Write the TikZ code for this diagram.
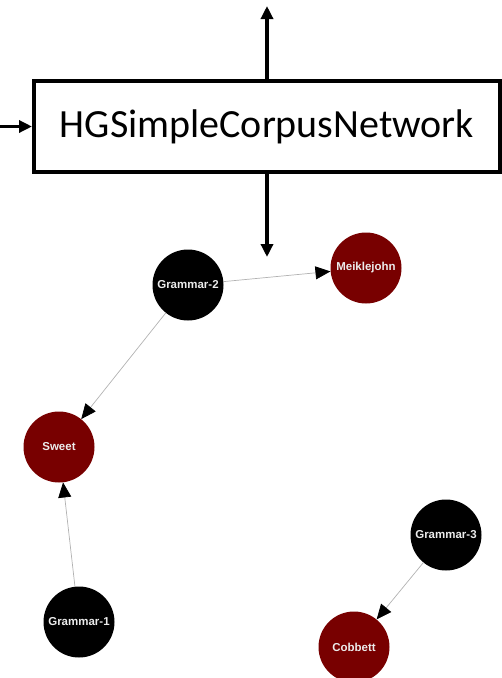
\documentclass[tikz,border=0pt]{standalone}
\usepackage{fontspec}
\setmainfont{Liberation Sans}
\newfontfamily\boxfont{Carlito}
\usetikzlibrary{arrows.meta}
\definecolor{darkred}{RGB}{120,0,0}
\definecolor{labelgray}{RGB}{235,235,235}
\begin{document}
\begin{tikzpicture}[x=1pt,y=-1pt,
  thickarrow/.style={line width=3.5pt,-{Triangle[length=13pt,width=12pt]}},
  graphnode/.style={circle,minimum size=71pt,inner sep=0pt,text=labelgray,font=\bfseries\fontsize{11.5}{12}\selectfont},
  grammarnode/.style={graphnode,fill=black},
  authornode/.style={graphnode,fill=darkred},
  edge/.style={draw=gray!60,line width=0.7pt,-{Triangle[length=15pt,width=13pt,fill=black,color=black]}}]
\useasboundingbox (0,0) rectangle (502,678);
% main box
\node[draw,line width=4pt,minimum width=466pt,minimum height=91pt,inner sep=0pt,
  font=\boxfont\fontsize{40}{42}\selectfont] (box) at (267,126.5) {HGSimpleCorpusNetwork};
\coordinate (topend) at (267,6);
\coordinate (botend) at (267,257);
\coordinate (leftstart) at (0,126.5);
\draw[thickarrow] (box.north -| topend) -- (topend);
\draw[thickarrow] (box.south -| botend) -- (botend);
\draw[thickarrow] (leftstart) -- (box.west);
% graph
\node[grammarnode] (g2) at (188,285) {Grammar-2};
\node[authornode] (mk) at (366,268) {Meiklejohn};
\node[authornode] (sw) at (59,447) {Sweet};
\node[grammarnode] (g1) at (79,622) {Grammar-1};
\node[grammarnode] (g3) at (446,535) {Grammar-3};
\node[authornode] (cb) at (354,647) {Cobbett};
\draw[edge] (g2) -- (mk);
\draw[edge] (g2) -- (sw);
\draw[edge] (g1) -- (sw);
\draw[edge] (g3) -- (cb);
\end{tikzpicture}
\end{document}
